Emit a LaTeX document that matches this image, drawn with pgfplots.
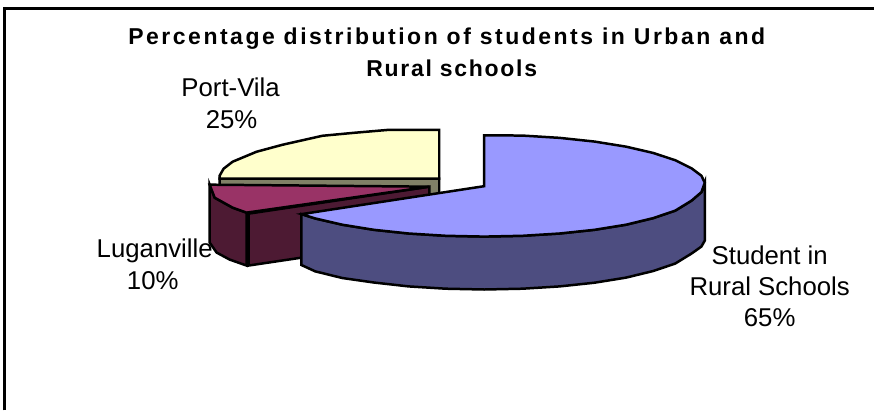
\documentclass[border=0pt]{standalone}
\usepackage{pgfplots}
\pgfplotsset{compat=1.18}
\usepackage{fontspec}
\setmainfont{Liberation Sans}
\newfontfamily\titlefont[LetterSpace=11]{Liberation Sans}
\newfontfamily\titlefontb[LetterSpace=7.5]{Liberation Sans}
\definecolor{bluetop}{HTML}{9999FF}
\definecolor{blueside}{HTML}{4D4D80}
\definecolor{redtop}{HTML}{993366}
\definecolor{redside}{HTML}{4D1A33}
\definecolor{yeltop}{HTML}{FFFFCC}
\definecolor{yelside}{HTML}{808066}
\begin{document}
\begin{tikzpicture}
\begin{axis}[
  at={(0,0)}, anchor=south west,
  width=875pt, height=411pt, scale only axis,
  xmin=0, xmax=875, ymin=0, ymax=411, y dir=reverse,
  hide axis, clip=false]
% frame
\addplot[black, line width=3pt, forget plot] coordinates {(5,411) (5,8.5) (875,8.5)};
% yellow side
\addplot[fill=yelside, draw=black, line width=2.5pt, forget plot] coordinates {
 (220,179) (440,179) (440,196) (220,190)} -- cycle;
% yellow top
\addplot[fill=yeltop, draw=black, line width=2.5pt, forget plot] coordinates {
 (440,179) (440,130) (390,130) (355,133) (323,136) (283,145) (257,152) (233,162) (224,169) (220,176) (220,179)} -- cycle;
% burgundy sides
\addplot[fill=redside, draw=black, line width=2.5pt, forget plot] coordinates {
 (249,214) (430,187) (430,239) (249,266)} -- cycle;
\addplot[fill=redside, draw=black, line width=2.5pt, forget plot] coordinates {
 (210,185) (215,198) (233,208) (247,213) (247,266) (230,260) (217,253) (210,243)} -- cycle;
% burgundy top
\addplot[fill=redtop, draw=black, line width=2.5pt, forget plot] coordinates {
 (430,187) (210,185) (215,198) (233,208) (247,213)} -- cycle;
% blue side
\addplot[fill=blueside, draw=black, line width=2.5pt, forget plot] coordinates {
 (706,183) (702.6,192.5) (692.7,201) (676.4,211) (654.3,218.5) (627.1,225.1) (595.5,230.2) (560.6,233.9) (523.4,236.2) (485,237) (446.6,236.2) (409.4,233.9) (374.5,230.2) (342.9,225.1) (315.7,218.8) (302,214.5)
 (302,265.5) (315.7,271.8) (342.9,278.5) (374.5,283) (409.4,286.9) (446.6,289.2) (485,290) (523.4,289.2) (560.6,286.9) (595.5,283.2) (627.1,278.1) (654.3,271.5) (676.4,264) (692.7,254) (702.6,247) (706,241)} -- cycle;
% blue top
\addplot[fill=bluetop, draw=black, line width=2.5pt, forget plot] coordinates {
 (485,186.5) (485,135.5) (523.4,135.8) (560.6,138.1) (595.5,141.8) (627.1,146.9) (654.3,153.2) (676.4,160.5) (692.7,168.6) (702.6,176) (706,183) (702.6,192.5) (692.7,201) (676.4,211) (654.3,218.5) (627.1,225.1) (595.5,230.2) (560.6,233.9) (523.4,236.2) (485,237) (446.6,236.2) (409.4,233.9) (374.5,230.2) (342.9,225.1) (315.7,218.8) (302,214.5)} -- cycle;
% title
\node[font=\titlefont\bfseries\fontsize{23}{26}\selectfont, anchor=base] at (axis cs:447.5,44.5) {Percentage distribution of students in Urban and};
\node[font=\titlefontb\bfseries\fontsize{23}{26}\selectfont, anchor=base] at (axis cs:452.5,76.5) {Rural schools};
% labels
\newcommand{\lab}[3]{\node[font=\fontsize{25.8}{28}\selectfont, anchor=base] at (axis cs:#1,#2) {#3};}
\lab{231}{97}{Port-Vila}
\lab{232}{129}{25\%}
\lab{155}{258}{Luganville}
\lab{153}{290}{10\%}
\lab{771}{265}{Student in}
\lab{771}{296}{Rural Schools}
\lab{771}{327}{65\%}
\end{axis}
\path (0,0) rectangle (875pt,411pt);
\end{tikzpicture}
\end{document}
